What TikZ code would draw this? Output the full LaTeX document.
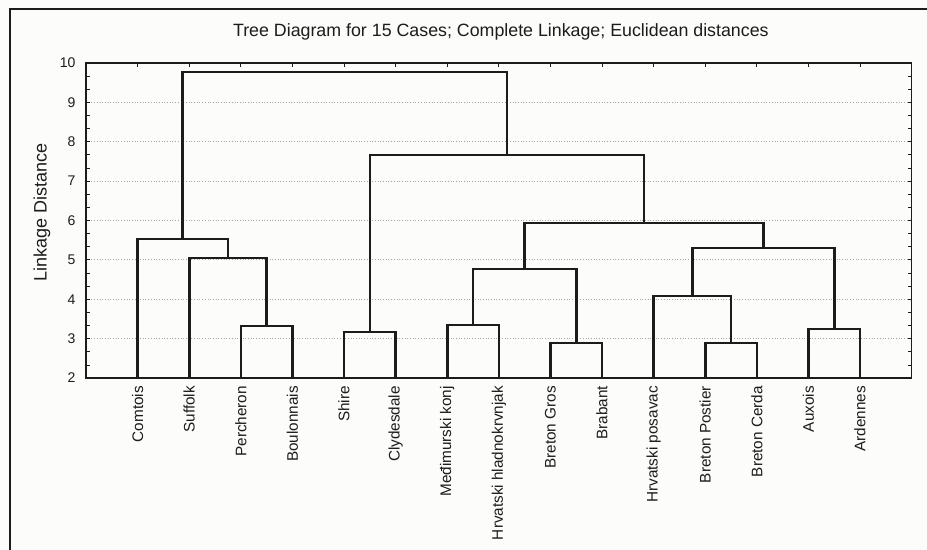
\documentclass[tikz,border=0pt]{standalone}
\usepackage{fontspec}
\setmainfont{Liberation Sans}
\definecolor{ink}{HTML}{1C1C1C}
\definecolor{grid}{HTML}{A8A8A8}
\definecolor{paper}{HTML}{FCFCFA}
\newcommand{\LeafW}{51.6pt}
\newcommand{\UnitH}{39.4pt}

\begin{document}
\begin{tikzpicture}[x=\LeafW, y=\UnitH, ink,
    frame/.style={draw=ink, line width=1.6pt},
    link/.style={draw=ink, line width=2.6pt},
    gridline/.style={draw=grid, line width=0.7pt, dotted},
    tick/.style={draw=ink, line width=0.7pt},
    leaf/.style={rotate=90, anchor=east, inner sep=0pt, font=\fontsize{15.3}{16}\selectfont},
    axnum/.style={anchor=east, inner sep=0pt, font=\fontsize{14}{15}\selectfont},
    head/.style={font=\fontsize{17.8}{19}\selectfont},
  ]
% --- Page --------------------------------------------------------------------------
\useasboundingbox (-1.6667,-2.365) rectangle (16.298,11.594);
\clip (-1.6667,-2.365) rectangle (16.298,11.594);
\fill[paper] (-1.6667,-2.365) rectangle (16.298,11.594);
\draw[frame, line width=1.3pt] (-1.473,-2.6) rectangle (16.5,11.365);

% --- Title and axis label ----------------------------------------------------------
\node[head] (title) at (8.04,10.78) {Tree Diagram for 15 Cases; Complete Linkage; Euclidean distances};
\node[head, rotate=90, font=\fontsize{18}{19}\selectfont] (ylabel) at (-0.853,6.19) {Linkage Distance};

% --- Grid, ticks, numbers ----------------------------------------------------------
\foreach \v in {3,...,9}
  \draw[gridline] (0,\v) -- (16,\v);
\foreach \k in {0,...,24} {
  \draw[tick] (0,2+\k/3) -- ++(4pt,0);
  \draw[tick] (16,2+\k/3) -- ++(-4pt,0);
}
\foreach \i in {1,...,15}
  \draw[tick] (\i,10) -- ++(0,-4pt);
\foreach \v in {2,...,10}
  \node[axnum] (num\v) at (-0.2,\v) {\v};

% --- Leaves ------------------------------------------------------------------------
\foreach \i/\k/\n in {1/comtois/Comtois, 2/suffolk/Suffolk, 3/percheron/Percheron,
    4/boulonnais/Boulonnais, 5/shire/Shire, 6/clydesdale/Clydesdale,
    7/medimurski/Međimurski konj, 8/hladno/Hrvatski hladnokrvnjak,
    9/bretongros/Breton Gros, 10/brabant/Brabant, 11/posavac/Hrvatski posavac,
    12/postier/Breton Postier, 13/cerda/Breton Cerda, 14/auxois/Auxois, 15/ardennes/Ardennes} {
  \coordinate (\k) at (\i,2);
  \node[leaf] (\k-name) at (\i,1.8) {\n};
}

% --- Merges (x = middle of the two children, y = linkage distance) ----------------
\coordinate (pb) at (3.5,3.32);
\coordinate (spb) at (2.75,5.05);
\coordinate (left) at (1.875,5.53);
\coordinate (sc) at (5.5,3.17);
\coordinate (mh) at (7.5,3.35);
\coordinate (gb) at (9.5,2.89);
\coordinate (mhgb) at (8.5,4.77);
\coordinate (pce) at (12.5,2.89);
\coordinate (hpce) at (11.75,4.08);
\coordinate (aa) at (14.5,3.24);
\coordinate (east) at (13.125,5.30);
\coordinate (mid) at (10.8125,5.93);
\coordinate (right) at (8.156,7.66);
\coordinate (root) at (5.016,9.77);

% --- Links -------------------------------------------------------------------------
\draw[link] (percheron) |- (pb) -| (boulonnais);
\draw[link] (suffolk) |- (spb) -| (pb);
\draw[link] (comtois) |- (left) -| (spb);
\draw[link] (shire) |- (sc) -| (clydesdale);
\draw[link] (medimurski) |- (mh) -| (hladno);
\draw[link] (bretongros) |- (gb) -| (brabant);
\draw[link] (mh) |- (mhgb) -| (gb);
\draw[link] (postier) |- (pce) -| (cerda);
\draw[link] (posavac) |- (hpce) -| (pce);
\draw[link] (auxois) |- (aa) -| (ardennes);
\draw[link] (hpce) |- (east) -| (aa);
\draw[link] (mhgb) |- (mid) -| (east);
\draw[link] (sc) |- (right) -| (mid);
\draw[link] (left) |- (root) -| (right);

% --- Plot frame (drawn last) ---------------------------------------------------------
\draw[frame] (0,2) rectangle (16,10);
\end{tikzpicture}
\end{document}
